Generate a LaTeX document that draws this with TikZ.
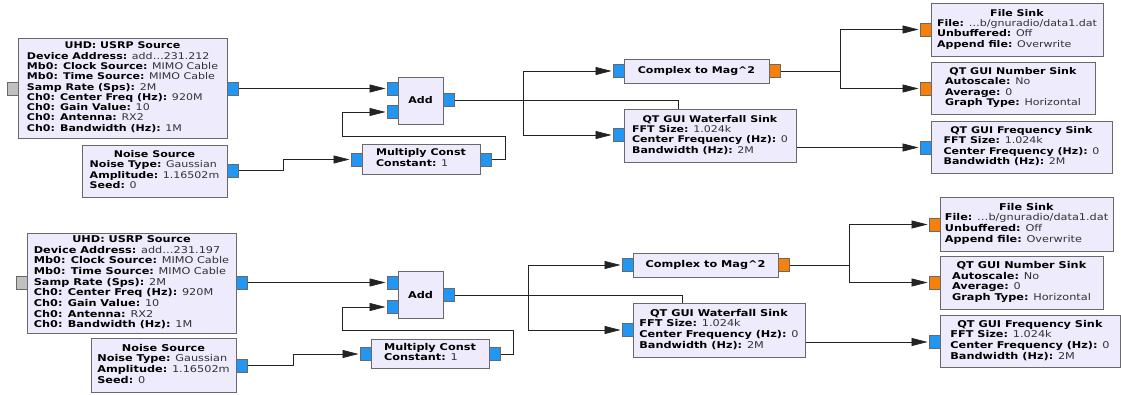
\documentclass[tikz,border=0pt]{standalone}
\usepackage{fontspec}
\setmainfont{DejaVu Sans}[FakeStretch=1.2]
\usetikzlibrary{arrows.meta}
\pgfdeclarelayer{bg}
\pgfsetlayers{bg,main}
\definecolor{blkfill}{RGB}{238,235,252}
\definecolor{blkdraw}{RGB}{105,105,105}
\definecolor{pblue}{RGB}{33,150,243}
\definecolor{porange}{RGB}{245,128,10}
\definecolor{pgrey}{RGB}{192,192,192}
\definecolor{wirecol}{RGB}{35,35,35}
\definecolor{valcol}{RGB}{50,50,50}
\newcommand\kv[2]{\textbf{#1:} {\color{valcol}#2}}
\newcommand\ttl[1]{\multicolumn{1}{@{}c@{}}{\textbf{#1}}}
\newcommand\fa{\fontsize{9.2}{10.3}\selectfont}
\newcommand\fb{\fontsize{9.4}{10.7}\selectfont}
\begin{document}
\begin{tikzpicture}[x=1pt,y=-1pt,
  blk/.style={draw=blkdraw, fill=blkfill, line width=0.7pt, inner sep=0pt, outer sep=0pt, anchor=north west},
  port/.style={draw=blkdraw, line width=0.6pt, minimum width=11pt, minimum height=13pt, inner sep=0pt, outer sep=0pt},
  pb/.style={port, fill=pblue},
  po/.style={port, fill=porange},
  pg/.style={port, fill=pgrey},
  wire/.style={draw=wirecol, line width=0.7pt},
  arr/.style={wire, -{Triangle[length=16pt,width=8pt]}, shorten >=1.5pt}]
\begin{pgfonlayer}{bg}
\useasboundingbox[fill=white] (0,0) rectangle (1121,395);
\end{pgfonlayer}

% ================= top =================
\node[blk, minimum width=209pt, minimum height=100pt, font=\fa] (usrp1) at (18,38) {\begin{tabular}{@{}l@{}}
\ttl{UHD: USRP Source}\\
\kv{Device Address}{add…231.212}\\
\kv{Mb0: Clock Source}{MIMO Cable}\\
\kv{Mb0: Time Source}{MIMO Cable}\\
\kv{Samp Rate (Sps)}{2M}\\
\kv{Ch0: Center Freq (Hz)}{920M}\\
\kv{Ch0: Gain Value}{10}\\
\kv{Ch0: Antenna}{RX2}\\
\kv{Ch0: Bandwidth (Hz)}{1M}%
\end{tabular}};
\node[pg] (u1i) at (12.5,88.5) {};
\node[pb] (u1o) at (232.5,88.5) {};

\node[blk, minimum width=145pt, minimum height=52pt, font=\fa] (noise1) at (82,145) {\begin{tabular}{@{}l@{}}
\ttl{Noise Source}\\
\kv{Noise Type}{Gaussian}\\
\kv{Amplitude}{1.16502m}\\
\kv{Seed}{0}%
\end{tabular}};
\node[pb] (n1o) at (232.5,170.5) {};

\node[blk, minimum width=45pt, minimum height=47pt, font=\fa] (add1) at (398,77) {\textbf{Add}};
\node[pb] (a1i1) at (392.5,88.5) {};
\node[pb] (a1i2) at (392.5,112) {};
\node[pb] (a1o) at (449,100) {};

\node[blk, minimum width=118pt, minimum height=30pt, font=\fa] (mult1) at (362,144) {\begin{tabular}{@{}l@{}}
\ttl{Multiply Const}\\
\kv{Constant}{1}%
\end{tabular}};
\node[pb] (m1i) at (356.5,159.5) {};
\node[pb] (m1o) at (485.5,159.5) {};

\node[blk, minimum width=145pt, minimum height=24pt, font=\fa] (c2m1) at (624,59) {\textbf{Complex to Mag\textasciicircum2}};
\node[pb] (c1i) at (618.5,71) {};
\node[po] (c1o) at (774.5,71) {};

\node[blk, minimum width=172pt, minimum height=53pt, font=\fa] (wf1) at (624,109) {\begin{tabular}{@{}l@{}}
\ttl{QT GUI Waterfall Sink}\\
\kv{FFT Size}{1.024k}\\
\kv{Center Frequency (Hz)}{0}\\
\kv{Bandwidth (Hz)}{2M}%
\end{tabular}};
\node[pb] (w1i) at (618.5,135) {};

\node[blk, minimum width=172pt, minimum height=53pt, font=\fa] (file1) at (931,3) {\begin{tabular}{@{}l@{}}
\ttl{File Sink}\\
\kv{File}{…b/gnuradio/data1.dat}\\
\kv{Unbuffered}{Off}\\
\kv{Append file}{Overwrite}%
\end{tabular}};
\node[po] (f1i) at (925.5,29.5) {};

\node[blk, minimum width=164pt, minimum height=52pt, font=\fa] (num1) at (931,62) {\begin{tabular}{@{}l@{}}
\ttl{QT GUI Number Sink}\\
\kv{Autoscale}{No}\\
\kv{Average}{0}\\
\kv{Graph Type}{Horizontal}%
\end{tabular}};
\node[po] (nu1i) at (925.5,88.5) {};

\node[blk, minimum width=181pt, minimum height=52pt, font=\fa] (freq1) at (931,121) {\begin{tabular}{@{}l@{}}
\ttl{QT GUI Frequency Sink}\\
\kv{FFT Size}{1.024k}\\
\kv{Center Frequency (Hz)}{0}\\
\kv{Bandwidth (Hz)}{2M}%
\end{tabular}};
\node[pb] (q1i) at (925.5,147.5) {};

\coordinate (j1) at (523,100);
\coordinate (k1) at (840,71);

% ================= bottom =================
\node[blk, minimum width=209pt, minimum height=100pt, font=\fb] (usrp2) at (27,233) {\begin{tabular}{@{}l@{}}
\ttl{UHD: USRP Source}\\
\kv{Device Address}{add…231.197}\\
\kv{Mb0: Clock Source}{MIMO Cable}\\
\kv{Mb0: Time Source}{MIMO Cable}\\
\kv{Samp Rate (Sps)}{2M}\\
\kv{Ch0: Center Freq (Hz)}{920M}\\
\kv{Ch0: Gain Value}{10}\\
\kv{Ch0: Antenna}{RX2}\\
\kv{Ch0: Bandwidth (Hz)}{1M}%
\end{tabular}};
\node[pg] (u2i) at (21.5,282.5) {};
\node[pb] (u2o) at (241.5,282.5) {};

\node[blk, minimum width=145pt, minimum height=54pt, font=\fb] (noise2) at (91,338) {\begin{tabular}{@{}l@{}}
\ttl{Noise Source}\\
\kv{Noise Type}{Gaussian}\\
\kv{Amplitude}{1.16502m}\\
\kv{Seed}{0}%
\end{tabular}};
\node[pb] (n2o) at (241.5,365.5) {};

\node[blk, minimum width=45pt, minimum height=47pt, font=\fb] (add2) at (398,271) {\textbf{Add}};
\node[pb] (a2i1) at (392.5,282.5) {};
\node[pb] (a2i2) at (392.5,307) {};
\node[pb] (a2o) at (449,295) {};

\node[blk, minimum width=118pt, minimum height=29pt, font=\fb] (mult2) at (371,339) {\begin{tabular}{@{}l@{}}
\ttl{Multiply Const}\\
\kv{Constant}{1}%
\end{tabular}};
\node[pb] (m2i) at (365.5,354) {};
\node[pb] (m2o) at (494.5,354) {};

\node[blk, minimum width=145pt, minimum height=24pt, font=\fb] (c2m2) at (633,253) {\textbf{Complex to Mag\textasciicircum2}};
\node[pb] (c2i) at (627.5,265) {};
\node[po] (c2o) at (783.5,265) {};

\node[blk, minimum width=172pt, minimum height=54pt, font=\fb] (wf2) at (633,303) {\begin{tabular}{@{}l@{}}
\ttl{QT GUI Waterfall Sink}\\
\kv{FFT Size}{1.024k}\\
\kv{Center Frequency (Hz)}{0}\\
\kv{Bandwidth (Hz)}{2M}%
\end{tabular}};
\node[pb] (w2i) at (627.5,330) {};

\node[blk, minimum width=173pt, minimum height=54pt, font=\fb] (file2) at (940,197) {\begin{tabular}{@{}l@{}}
\ttl{File Sink}\\
\kv{File}{…b/gnuradio/data1.dat}\\
\kv{Unbuffered}{Off}\\
\kv{Append file}{Overwrite}%
\end{tabular}};
\node[po] (f2i) at (934.5,224.5) {};

\node[blk, minimum width=163pt, minimum height=53pt, font=\fb] (num2) at (940,256) {\begin{tabular}{@{}l@{}}
\ttl{QT GUI Number Sink}\\
\kv{Autoscale}{No}\\
\kv{Average}{0}\\
\kv{Graph Type}{Horizontal}%
\end{tabular}};
\node[po] (nu2i) at (934.5,282.5) {};

\node[blk, minimum width=180pt, minimum height=52pt, font=\fb] (freq2) at (940,315) {\begin{tabular}{@{}l@{}}
\ttl{QT GUI Frequency Sink}\\
\kv{FFT Size}{1.024k}\\
\kv{Center Frequency (Hz)}{0}\\
\kv{Bandwidth (Hz)}{2M}%
\end{tabular}};
\node[pb] (q2i) at (934.5,342) {};

\coordinate (j2) at (528,295);
\coordinate (k2) at (849,265);

% ================= wires =================
\begin{pgfonlayer}{bg}
\draw[arr] (u1o.east) -- (a1i1.west);
\draw[arr] (n1o.east) -- (283,170.5) |- (m1i.west);
\draw[arr] (m1o.east) -- (505,159.5) -- (505,136) -- (342,136) |- (a1i2.west);
\draw[wire] (a1o.east) -- (j1);
\draw[arr] (j1) |- (c1i.west);
\draw[arr] (j1) |- (w1i.west);
\draw[arr] (j1) -- (678,100) |- (q1i.west);
\draw[wire] (c1o.east) -- (k1);
\draw[arr] (k1) |- (f1i.west);
\draw[arr] (k1) |- (nu1i.west);

\draw[arr] (u2o.east) -- (a2i1.west);
\draw[arr] (n2o.east) -- (293,365.5) |- (m2i.west);
\draw[arr] (m2o.east) -- (513,354) -- (513,330) -- (342,330) |- (a2i2.west);
\draw[wire] (a2o.east) -- (j2);
\draw[arr] (j2) |- (c2i.west);
\draw[arr] (j2) |- (w2i.west);
\draw[arr] (j2) -- (682,295) |- (q2i.west);
\draw[wire] (c2o.east) -- (k2);
\draw[arr] (k2) |- (f2i.west);
\draw[arr] (k2) |- (nu2i.west);
\end{pgfonlayer}
\end{tikzpicture}
\end{document}
